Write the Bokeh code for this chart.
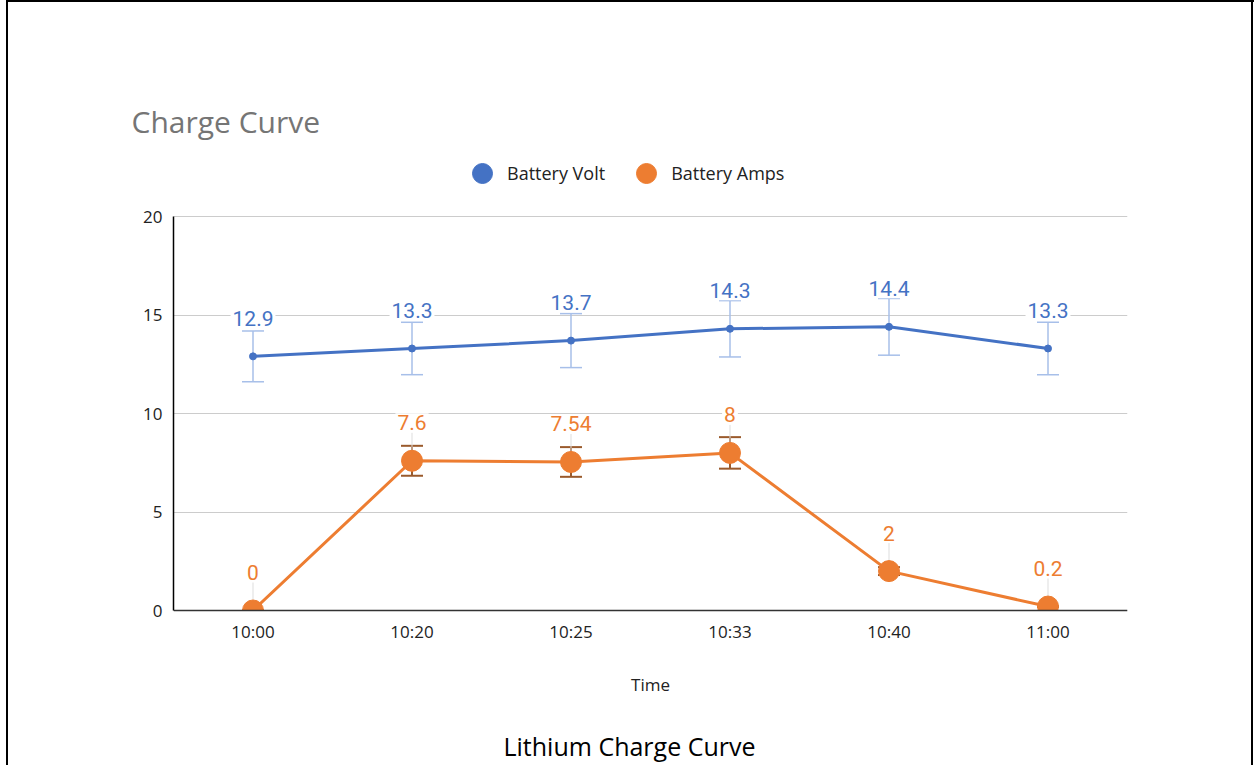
from bokeh.plotting import figure
from bokeh.models import (ColumnDataSource, FactorRange, Range1d, Whisker, TeeHead,
                          Legend, LegendItem, FixedTicker, Title, Label, BoxAnnotation)
from bokeh.core.properties import value
from bokeh.embed import file_html
from bokeh.resources import INLINE

# ---- data ----
times = ["10:00", "10:20", "10:25", "10:33", "10:40", "11:00"]
volts = [12.9, 13.3, 13.7, 14.3, 14.4, 13.3]
amps = [0, 7.6, 7.54, 8, 2, 0.2]
err_frac = 0.10
y_ticks = [0, 5, 10, 15, 20]
y_top_value = 20

BLUE = "#4472C4"
ORANGE = "#ED7D31"

# layout (pixels)
W, H = 1254, 765
FRAME_LEFT, FRAME_RIGHT = 173, 1127
FRAME_TOP, FRAME_BOTTOM = 145, 765
AXIS_TOP, AXIS_ZERO = 216, 610   # pixel rows of values 20 and 0
px_per_unit = (AXIS_ZERO - AXIS_TOP) / y_top_value
y_end = (AXIS_ZERO - FRAME_TOP) / px_per_unit
y_start = -(FRAME_BOTTOM - AXIS_ZERO) / px_per_unit

vsrc = ColumnDataSource(dict(
    t=times, v=volts,
    lo=[v * (1 - err_frac) for v in volts],
    hi=[v * (1 + err_frac) for v in volts],
    lbl=[f"{v:g}" for v in volts],
))
asrc = ColumnDataSource(dict(
    t=times, v=amps,
    lo=[v * (1 - err_frac) for v in amps],
    hi=[v * (1 + err_frac) for v in amps],
    lbl=[f"{v:g}" for v in amps],
))

p = figure(x_range=FactorRange(factors=times), y_range=Range1d(y_start, y_end),
           width=W, height=H, output_backend="svg", toolbar_location=None,
           min_border_left=FRAME_LEFT, min_border_right=W - FRAME_RIGHT,
           min_border_top=FRAME_TOP, min_border_bottom=H - FRAME_BOTTOM)
p.outline_line_color = None
p.background_fill_color = "white"
p.border_fill_color = None
p.styles = {
    "background": ("linear-gradient(#000,#000) 6px 0 / 2px 100% no-repeat, "
                   "linear-gradient(#000,#000) 6px 0 / 1248px 2px no-repeat, "
                   "linear-gradient(#000,#000) 1251px 0 / 2px 100% no-repeat, #fff"),
}

# grid
p.xgrid.grid_line_color = None
p.ygrid.grid_line_color = "#cccccc"
p.ygrid.grid_line_width = 1

# axes
p.yaxis.ticker = FixedTicker(ticks=y_ticks)
p.yaxis.bounds = (0, y_top_value)
p.yaxis.axis_line_color = "#000000"
p.yaxis.axis_line_width = 1.5
p.yaxis.major_tick_line_color = None
p.yaxis.minor_tick_line_color = None
p.yaxis.major_label_text_font = "Open Sans"
p.yaxis.major_label_text_font_size = "17px"
p.yaxis.major_label_text_color = "#222222"
p.yaxis.major_label_standoff = 5

p.xaxis.fixed_location = 0
p.xaxis.axis_line_color = "#333333"
p.xaxis.axis_line_width = 1.5
p.xaxis.major_tick_line_color = None
p.xaxis.minor_tick_line_color = None
p.xaxis.major_label_text_font = "Open Sans"
p.xaxis.major_label_text_font_size = "17px"
p.xaxis.major_label_text_color = "#222222"
p.xaxis.major_label_standoff = 3
p.xaxis.axis_label = "Time"
p.xaxis.axis_label_text_font = "Open Sans"
p.xaxis.axis_label_text_font_size = "17px"
p.xaxis.axis_label_text_font_style = "normal"
p.xaxis.axis_label_text_color = "#222222"
p.xaxis.axis_label_standoff = 27

# error bars
p.add_layout(Whisker(base="t", lower="lo", upper="hi", source=vsrc, dimension="height",
                     line_color="#a7bfe9", line_width=1.5,
                     upper_head=TeeHead(size=22, line_color="#a7bfe9", line_width=1.5),
                     lower_head=TeeHead(size=22, line_color="#a7bfe9", line_width=1.5)))
p.add_layout(Whisker(base="t", lower="lo", upper="hi", source=asrc, dimension="height",
                     line_color="#9a5a2c", line_width=2,
                     upper_head=TeeHead(size=22, line_color="#9a5a2c", line_width=2),
                     lower_head=TeeHead(size=22, line_color="#9a5a2c", line_width=2)))

# leader lines for amp labels
p.ray(x="t", y="v", length=28, length_units="screen", angle=90, angle_units="deg",
      line_color="#dddddd", line_width=1, source=asrc)

# series
p.line(x="t", y="v", source=vsrc, line_color=BLUE, line_width=3)
vr = p.scatter(x="t", y="v", source=vsrc, size=7, fill_color=BLUE, line_color=BLUE)
p.line(x="t", y="v", source=asrc, line_color=ORANGE, line_width=3)
ar = p.scatter(x="t", y="v", source=asrc, size=21, fill_color=ORANGE, line_color=ORANGE)

# white mask below zero (markers are cut at the axis)
p.add_layout(BoxAnnotation(top=0, fill_color="white", fill_alpha=1, line_color=None,
                           level="glyph"))

# data labels
for src, col in ((vsrc, BLUE), (asrc, ORANGE)):
    p.text(x="t", y="v", text="lbl", source=src, y_offset=-38,
           text_align="center", text_baseline="middle",
           text_font=value("Roboto"), text_font_size="21px", text_color=col,
           background_fill_color="white", padding=2)

# legend
legend = Legend(items=[LegendItem(label="Battery Volt", renderers=[vr]),
                       LegendItem(label="Battery Amps", renderers=[ar])],
                orientation="horizontal", location=(284, 567),
                glyph_width=50, glyph_height=50, label_standoff=0, spacing=16,
                padding=0, margin=0, border_line_color=None,
                background_fill_alpha=0,
                label_text_font="Open Sans", label_text_font_size="18px",
                label_text_color="#222222")
p.add_layout(legend)

# titles
p.add_layout(Title(text="Charge Curve", align="left", offset=-42, standoff=8,
                   text_font="Open Sans", text_font_size="30px",
                   text_font_style="normal", text_color="#757575"), "above")
p.add_layout(Label(x=456, y=20, x_units="screen", y_units="screen",
                   text="Lithium Charge Curve", text_align="center", text_baseline="middle",
                   text_font="Open Sans", text_font_size="25px", text_color="#000000"))

open("out.html", "w").write(file_html(p, INLINE))
